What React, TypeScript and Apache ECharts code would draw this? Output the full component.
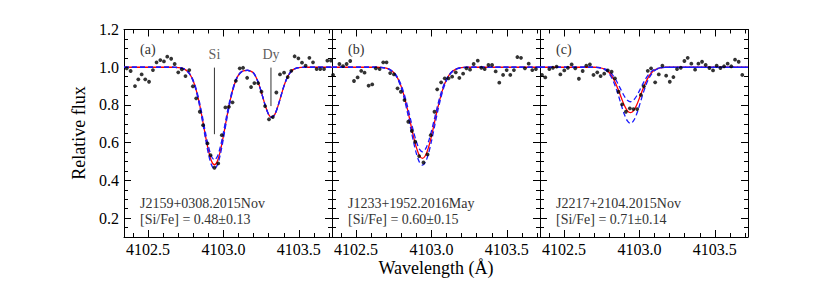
import React, { useEffect, useRef } from 'react';
import * as echarts from 'echarts';

const FONT = 'Liberation Serif';

const PANEL_TAGS = ['(a)', '(b)', '(c)'];
const STAR_NAMES = ['J2159+0308.2015Nov', 'J1233+1952.2016May', 'J2217+2104.2015Nov'];
const ABUNDANCES = ['[Si/Fe] = 0.48±0.13', '[Si/Fe] = 0.60±0.15', '[Si/Fe] = 0.71±0.14'];

const X_MIN = 4102.34;
const X_MAX = 4103.72;
const Y_MIN = 0.1;
const Y_MAX = 1.2;

const LINE_LABELS = ['Si', 'Dy'];
const LINE_WL = [4102.94, 4103.315];
const LINE_TOP = [0.998, 0.998];
const LINE_BOTTOM = [0.645, 0.794];

// Observed spectra
const OBS_A_WL = [4102.358, 4102.384, 4102.413, 4102.435, 4102.457, 4102.481, 4102.506, 4102.532, 4102.556, 4102.581, 4102.605, 4102.627, 4102.653, 4102.676, 4102.700, 4102.724, 4102.748, 4102.773, 4102.797, 4102.819, 4102.843, 4102.865, 4102.894, 4102.914, 4102.940, 4102.965, 4102.989, 4103.013, 4103.036, 4103.060, 4103.082, 4103.108, 4103.130, 4103.157, 4103.183, 4103.205, 4103.230, 4103.252, 4103.276, 4103.302, 4103.327, 4103.351, 4103.375, 4103.402, 4103.426, 4103.450, 4103.472, 4103.497, 4103.521, 4103.545, 4103.570, 4103.594, 4103.618, 4103.642, 4103.667, 4103.689, 4103.713];
const OBS_A_FLUX = [0.994, 0.980, 0.900, 0.936, 0.962, 0.936, 0.923, 0.985, 1.026, 1.038, 1.031, 1.056, 1.045, 1.017, 0.973, 0.989, 0.953, 0.985, 0.899, 0.835, 0.764, 0.693, 0.596, 0.534, 0.467, 0.490, 0.640, 0.787, 0.790, 0.814, 0.928, 0.994, 0.997, 0.944, 0.895, 0.916, 0.916, 0.870, 0.794, 0.724, 0.736, 0.866, 0.962, 0.971, 0.948, 0.981, 1.058, 1.047, 1.024, 1.008, 1.050, 1.026, 0.990, 0.990, 0.990, 1.035, 1.035];

const OBS_B_WL = [4102.347, 4102.389, 4102.413, 4102.437, 4102.461, 4102.486, 4102.510, 4102.534, 4102.556, 4102.583, 4102.607, 4102.631, 4102.656, 4102.680, 4102.702, 4102.726, 4102.751, 4102.775, 4102.797, 4102.821, 4102.846, 4102.870, 4102.892, 4102.918, 4102.947, 4102.974, 4102.995, 4103.020, 4103.038, 4103.064, 4103.088, 4103.113, 4103.137, 4103.161, 4103.185, 4103.210, 4103.232, 4103.256, 4103.280, 4103.307, 4103.331, 4103.353, 4103.378, 4103.402, 4103.426, 4103.450, 4103.475, 4103.499, 4103.523, 4103.547, 4103.570, 4103.594, 4103.620, 4103.645, 4103.669, 4103.693];
const OBS_B_FLUX = [0.959, 1.017, 1.006, 1.017, 1.033, 0.927, 0.946, 0.981, 0.971, 0.902, 0.909, 0.994, 0.990, 1.026, 1.026, 0.969, 0.962, 0.888, 0.870, 0.826, 0.711, 0.662, 0.605, 0.529, 0.495, 0.538, 0.640, 0.764, 0.883, 0.920, 0.941, 0.941, 0.950, 0.973, 0.943, 0.966, 0.994, 0.987, 1.017, 1.035, 0.997, 0.990, 1.012, 1.012, 0.978, 0.918, 0.959, 0.985, 0.959, 0.985, 1.054, 1.050, 0.994, 1.019, 0.985, 0.990];

const OBS_C_WL = [4102.353, 4102.375, 4102.402, 4102.426, 4102.450, 4102.475, 4102.501, 4102.525, 4102.550, 4102.574, 4102.598, 4102.623, 4102.647, 4102.671, 4102.695, 4102.720, 4102.742, 4102.766, 4102.790, 4102.815, 4102.837, 4102.861, 4102.885, 4102.910, 4102.936, 4102.960, 4102.985, 4103.009, 4103.029, 4103.055, 4103.077, 4103.104, 4103.128, 4103.152, 4103.177, 4103.201, 4103.225, 4103.249, 4103.274, 4103.298, 4103.320, 4103.344, 4103.369, 4103.391, 4103.415, 4103.439, 4103.464, 4103.488, 4103.512, 4103.537, 4103.561, 4103.585, 4103.609, 4103.634, 4103.658, 4103.682];
const OBS_C_FLUX = [0.959, 0.946, 0.990, 0.997, 1.003, 0.962, 0.983, 0.997, 1.015, 0.994, 0.939, 0.980, 1.008, 1.015, 0.959, 0.973, 0.953, 0.966, 0.983, 0.976, 0.941, 0.870, 0.803, 0.764, 0.782, 0.778, 0.778, 0.853, 0.899, 0.981, 0.994, 0.920, 0.962, 1.008, 0.955, 0.923, 0.948, 0.990, 0.997, 1.033, 1.050, 1.019, 0.987, 1.019, 1.029, 1.012, 0.996, 0.983, 1.008, 0.996, 1.005, 1.019, 1.005, 1.040, 1.029, 0.959];

// Synthetic spectra wavelength grid
const MODEL_WL = [4102.34, 4102.62, 4102.64, 4102.66, 4102.68, 4102.70, 4102.72, 4102.74, 4102.76, 4102.78, 4102.80, 4102.82, 4102.84, 4102.86, 4102.88, 4102.90, 4102.92, 4102.94, 4102.96, 4102.98, 4103.00, 4103.02, 4103.04, 4103.06, 4103.08, 4103.10, 4103.12, 4103.14, 4103.16, 4103.18, 4103.20, 4103.22, 4103.24, 4103.26, 4103.28, 4103.30, 4103.32, 4103.34, 4103.36, 4103.38, 4103.40, 4103.42, 4103.44, 4103.46, 4103.48, 4103.50, 4103.52, 4103.54, 4103.72];

const A_BEST = [1.000, 1.000, 1.000, 1.000, 0.999, 0.998, 0.996, 0.990, 0.979, 0.959, 0.926, 0.876, 0.808, 0.726, 0.638, 0.559, 0.503, 0.483, 0.503, 0.559, 0.638, 0.726, 0.808, 0.876, 0.926, 0.959, 0.976, 0.982, 0.983, 0.979, 0.969, 0.940, 0.897, 0.844, 0.790, 0.749, 0.734, 0.749, 0.790, 0.844, 0.897, 0.940, 0.969, 0.986, 0.994, 0.998, 0.999, 1.000, 1.000];
const A_MORE = [1.000, 1.000, 1.000, 1.000, 0.999, 0.998, 0.995, 0.990, 0.978, 0.958, 0.923, 0.871, 0.801, 0.715, 0.624, 0.541, 0.483, 0.462, 0.483, 0.541, 0.624, 0.715, 0.801, 0.871, 0.923, 0.957, 0.975, 0.982, 0.983, 0.979, 0.969, 0.940, 0.897, 0.844, 0.790, 0.749, 0.734, 0.749, 0.790, 0.844, 0.897, 0.940, 0.969, 0.986, 0.994, 0.998, 0.999, 1.000, 1.000];
const A_LESS = [1.000, 1.000, 1.000, 1.000, 0.999, 0.998, 0.996, 0.991, 0.980, 0.961, 0.930, 0.882, 0.818, 0.740, 0.656, 0.581, 0.528, 0.509, 0.528, 0.581, 0.656, 0.740, 0.818, 0.882, 0.930, 0.961, 0.977, 0.983, 0.984, 0.979, 0.969, 0.940, 0.897, 0.844, 0.790, 0.749, 0.734, 0.749, 0.790, 0.844, 0.897, 0.940, 0.969, 0.986, 0.994, 0.998, 0.999, 1.000, 1.000];

const B_BEST = [1.000, 1.000, 1.000, 0.999, 0.998, 0.995, 0.989, 0.979, 0.962, 0.935, 0.896, 0.843, 0.779, 0.707, 0.635, 0.574, 0.532, 0.517, 0.532, 0.574, 0.635, 0.707, 0.779, 0.843, 0.896, 0.935, 0.962, 0.979, 0.989, 0.995, 0.998, 0.999, 1.000, 1.000, 1.000, 1.000, 1.000, 1.000, 1.000, 1.000, 1.000, 1.000, 1.000, 1.000, 1.000, 1.000, 1.000, 1.000, 1.000];
const B_MORE = [1.000, 1.000, 1.000, 0.999, 0.997, 0.994, 0.988, 0.977, 0.959, 0.930, 0.888, 0.831, 0.762, 0.685, 0.608, 0.542, 0.497, 0.481, 0.497, 0.542, 0.608, 0.685, 0.762, 0.831, 0.888, 0.930, 0.959, 0.977, 0.988, 0.994, 0.997, 0.999, 1.000, 1.000, 1.000, 1.000, 1.000, 1.000, 1.000, 1.000, 1.000, 1.000, 1.000, 1.000, 1.000, 1.000, 1.000, 1.000, 1.000];
const B_LESS = [1.000, 1.000, 1.000, 0.999, 0.998, 0.995, 0.990, 0.980, 0.964, 0.939, 0.903, 0.855, 0.795, 0.728, 0.662, 0.605, 0.566, 0.552, 0.566, 0.605, 0.662, 0.728, 0.795, 0.855, 0.903, 0.939, 0.964, 0.980, 0.990, 0.995, 0.998, 0.999, 1.000, 1.000, 1.000, 1.000, 1.000, 1.000, 1.000, 1.000, 1.000, 1.000, 1.000, 1.000, 1.000, 1.000, 1.000, 1.000, 1.000];

const C_BEST = [1.000, 1.000, 1.000, 1.000, 1.000, 1.000, 0.999, 0.997, 0.993, 0.985, 0.971, 0.949, 0.918, 0.879, 0.837, 0.797, 0.769, 0.759, 0.769, 0.797, 0.837, 0.879, 0.918, 0.949, 0.971, 0.985, 0.993, 0.997, 0.999, 1.000, 1.000, 1.000, 1.000, 1.000, 1.000, 1.000, 1.000, 1.000, 1.000, 1.000, 1.000, 1.000, 1.000, 1.000, 1.000, 1.000, 1.000, 1.000, 1.000];
const C_MORE = [1.000, 1.000, 1.000, 1.000, 1.000, 1.000, 0.998, 0.996, 0.991, 0.981, 0.964, 0.937, 0.899, 0.851, 0.798, 0.749, 0.715, 0.702, 0.715, 0.749, 0.798, 0.851, 0.899, 0.937, 0.964, 0.981, 0.991, 0.996, 0.998, 1.000, 1.000, 1.000, 1.000, 1.000, 1.000, 1.000, 1.000, 1.000, 1.000, 1.000, 1.000, 1.000, 1.000, 1.000, 1.000, 1.000, 1.000, 1.000, 1.000];
const C_LESS = [1.000, 1.000, 1.000, 1.000, 1.000, 1.000, 0.999, 0.998, 0.994, 0.989, 0.978, 0.961, 0.938, 0.908, 0.876, 0.846, 0.825, 0.817, 0.825, 0.846, 0.876, 0.908, 0.938, 0.961, 0.978, 0.989, 0.994, 0.998, 0.999, 1.000, 1.000, 1.000, 1.000, 1.000, 1.000, 1.000, 1.000, 1.000, 1.000, 1.000, 1.000, 1.000, 1.000, 1.000, 1.000, 1.000, 1.000, 1.000, 1.000];

const OBS_WL = [OBS_A_WL, OBS_B_WL, OBS_C_WL];
const OBS_FLUX = [OBS_A_FLUX, OBS_B_FLUX, OBS_C_FLUX];
const BEST = [A_BEST, B_BEST, C_BEST];
const MORE = [A_MORE, B_MORE, C_MORE];
const LESS = [A_LESS, B_LESS, C_LESS];

const zip = (xs: number[], ys: number[]) => xs.map((x, i) => [x, ys[i]]);

const PLOT_LEFT = 124;
const PLOT_TOP = 29.5;
const PANEL_W = 208;
const PANEL_H = 207.5;

function makeOption() {
  const grid: any[] = [];
  const xAxis: any[] = [];
  const yAxis: any[] = [];
  const series: any[] = [];
  const graphic: any[] = [];

  const tickStyle = { color: '#000', width: 1 };
  const xFmt = (v: number) => (Math.abs(v * 2 - Math.round(v * 2)) < 1e-6 ? v.toFixed(1) : '');
  const yFmt = (v: number) => (v < 0.15 ? '' : v.toFixed(1));
  const txt = (text: string, size: number, fill: string, align: string) => ({
    text, font: `${size}px ${FONT}`, fontFamily: FONT, fontSize: size, fill,
    align, verticalAlign: 'middle', textAlign: align, textVerticalAlign: 'middle',
  });

  for (let i = 0; i < 3; i++) {
    const left = PLOT_LEFT + PANEL_W * i;
    grid.push({ left, top: PLOT_TOP, width: PANEL_W, height: PANEL_H, containLabel: false });
    const xBase = {
      gridIndex: i,
      type: 'value',
      min: X_MIN,
      max: X_MAX,
      splitNumber: 3,
      axisLine: { show: true, onZero: false, lineStyle: tickStyle },
      axisTick: { show: true, inside: true, length: 7, lineStyle: tickStyle },
      minorTick: { show: true, splitNumber: 5, length: 4, lineStyle: tickStyle },
      splitLine: { show: false },
    };
    xAxis.push({
      ...xBase,
      position: 'bottom',
      axisLabel: {
        show: true, fontFamily: FONT, fontSize: 16, color: '#000', margin: 4,
        formatter: xFmt, showMinLabel: false, showMaxLabel: false,
      },
    });
    xAxis.push({ ...xBase, position: 'top', axisLabel: { show: false } });
    const yBase = {
      gridIndex: i,
      type: 'value',
      min: Y_MIN,
      max: Y_MAX,
      splitNumber: 5,
      axisLine: { show: true, onZero: false, lineStyle: tickStyle },
      axisTick: { show: true, inside: true, length: 7, lineStyle: tickStyle },
      minorTick: { show: true, splitNumber: 4, length: 4, lineStyle: tickStyle },
      splitLine: { show: false },
    };
    yAxis.push({
      ...yBase,
      position: 'left',
      axisLabel: {
        show: i === 0, fontFamily: FONT, fontSize: 16, color: '#000', margin: 5,
        formatter: yFmt, showMinLabel: false,
      },
    });
    yAxis.push({ ...yBase, position: 'right', axisLabel: { show: false } });

    const xi = 2 * i;
    const yi = 2 * i;
    series.push({
      type: 'line', xAxisIndex: xi, yAxisIndex: yi, data: zip(MODEL_WL, BEST[i]),
      showSymbol: false, symbol: 'none', smooth: 0.3, z: 2,
      lineStyle: { color: '#ff0000', width: 1.3 },
    });
    [MORE[i], LESS[i]].forEach((arr) => {
      series.push({
        type: 'line', xAxisIndex: xi, yAxisIndex: yi, data: zip(MODEL_WL, arr),
        showSymbol: false, symbol: 'none', smooth: 0.3, z: 3,
        lineStyle: { color: '#1a1aff', width: 1.3, type: [5, 3] },
      });
    });
    series.push({
      type: 'scatter', xAxisIndex: xi, yAxisIndex: yi, data: zip(OBS_WL[i], OBS_FLUX[i]),
      symbol: 'circle', symbolSize: 3.8, z: 5,
      itemStyle: { color: '#000' },
    });

    graphic.push({ type: 'text', x: left + 16, y: 49, style: txt(PANEL_TAGS[i], 14, '#333', 'left') });
    graphic.push({ type: 'text', x: left + 16, y: 203, style: txt(STAR_NAMES[i], 14, '#333', 'left') });
    graphic.push({ type: 'text', x: left + 16, y: 219.5, style: txt(ABUNDANCES[i], 14, '#333', 'left') });
  }

  // Line identifications in panel (a)
  LINE_WL.forEach((wl, k) => {
    series.push({
      type: 'line', xAxisIndex: 0, yAxisIndex: 0,
      data: [[wl, LINE_TOP[k]], [wl, LINE_BOTTOM[k]]],
      showSymbol: false, symbol: 'none', z: 4,
      lineStyle: { color: '#333', width: 1 },
    });
  });
  series.push({
    type: 'scatter', xAxisIndex: 0, yAxisIndex: 0,
    data: LINE_WL.map((wl, k) => ({ name: LINE_LABELS[k], value: [wl, LINE_TOP[k]] })),
    symbol: 'circle', symbolSize: 1, z: 4,
    itemStyle: { color: 'rgba(0,0,0,0)' },
    label: {
      show: true, position: 'top', distance: 6, formatter: '{b}',
      fontFamily: FONT, fontSize: 14, color: '#333',
    },
  });

  graphic.push({ type: 'text', x: 78.5, y: 133, rotation: Math.PI / 2, style: txt('Relative flux', 18, '#000', 'center') });
  graphic.push({ type: 'text', x: 436, y: 268, style: txt('Wavelength (Å)', 18, '#000', 'center') });

  return {
    animation: false,
    backgroundColor: '#ffffff',
    textStyle: { fontFamily: FONT },
    grid, xAxis, yAxis, series, graphic,
  };
}

export default function App() {
  const ref = useRef<HTMLDivElement>(null);
  useEffect(() => {
    if (!ref.current) return;
    const chart = echarts.init(ref.current, undefined, { renderer: 'svg' });
    chart.setOption(makeOption() as any);
    return () => chart.dispose();
  }, []);
  return (
    <div
      ref={ref}
      style={{ position: 'fixed', left: 0, top: 0, width: 830, height: 297, background: '#fff' }}
    />
  );
}
